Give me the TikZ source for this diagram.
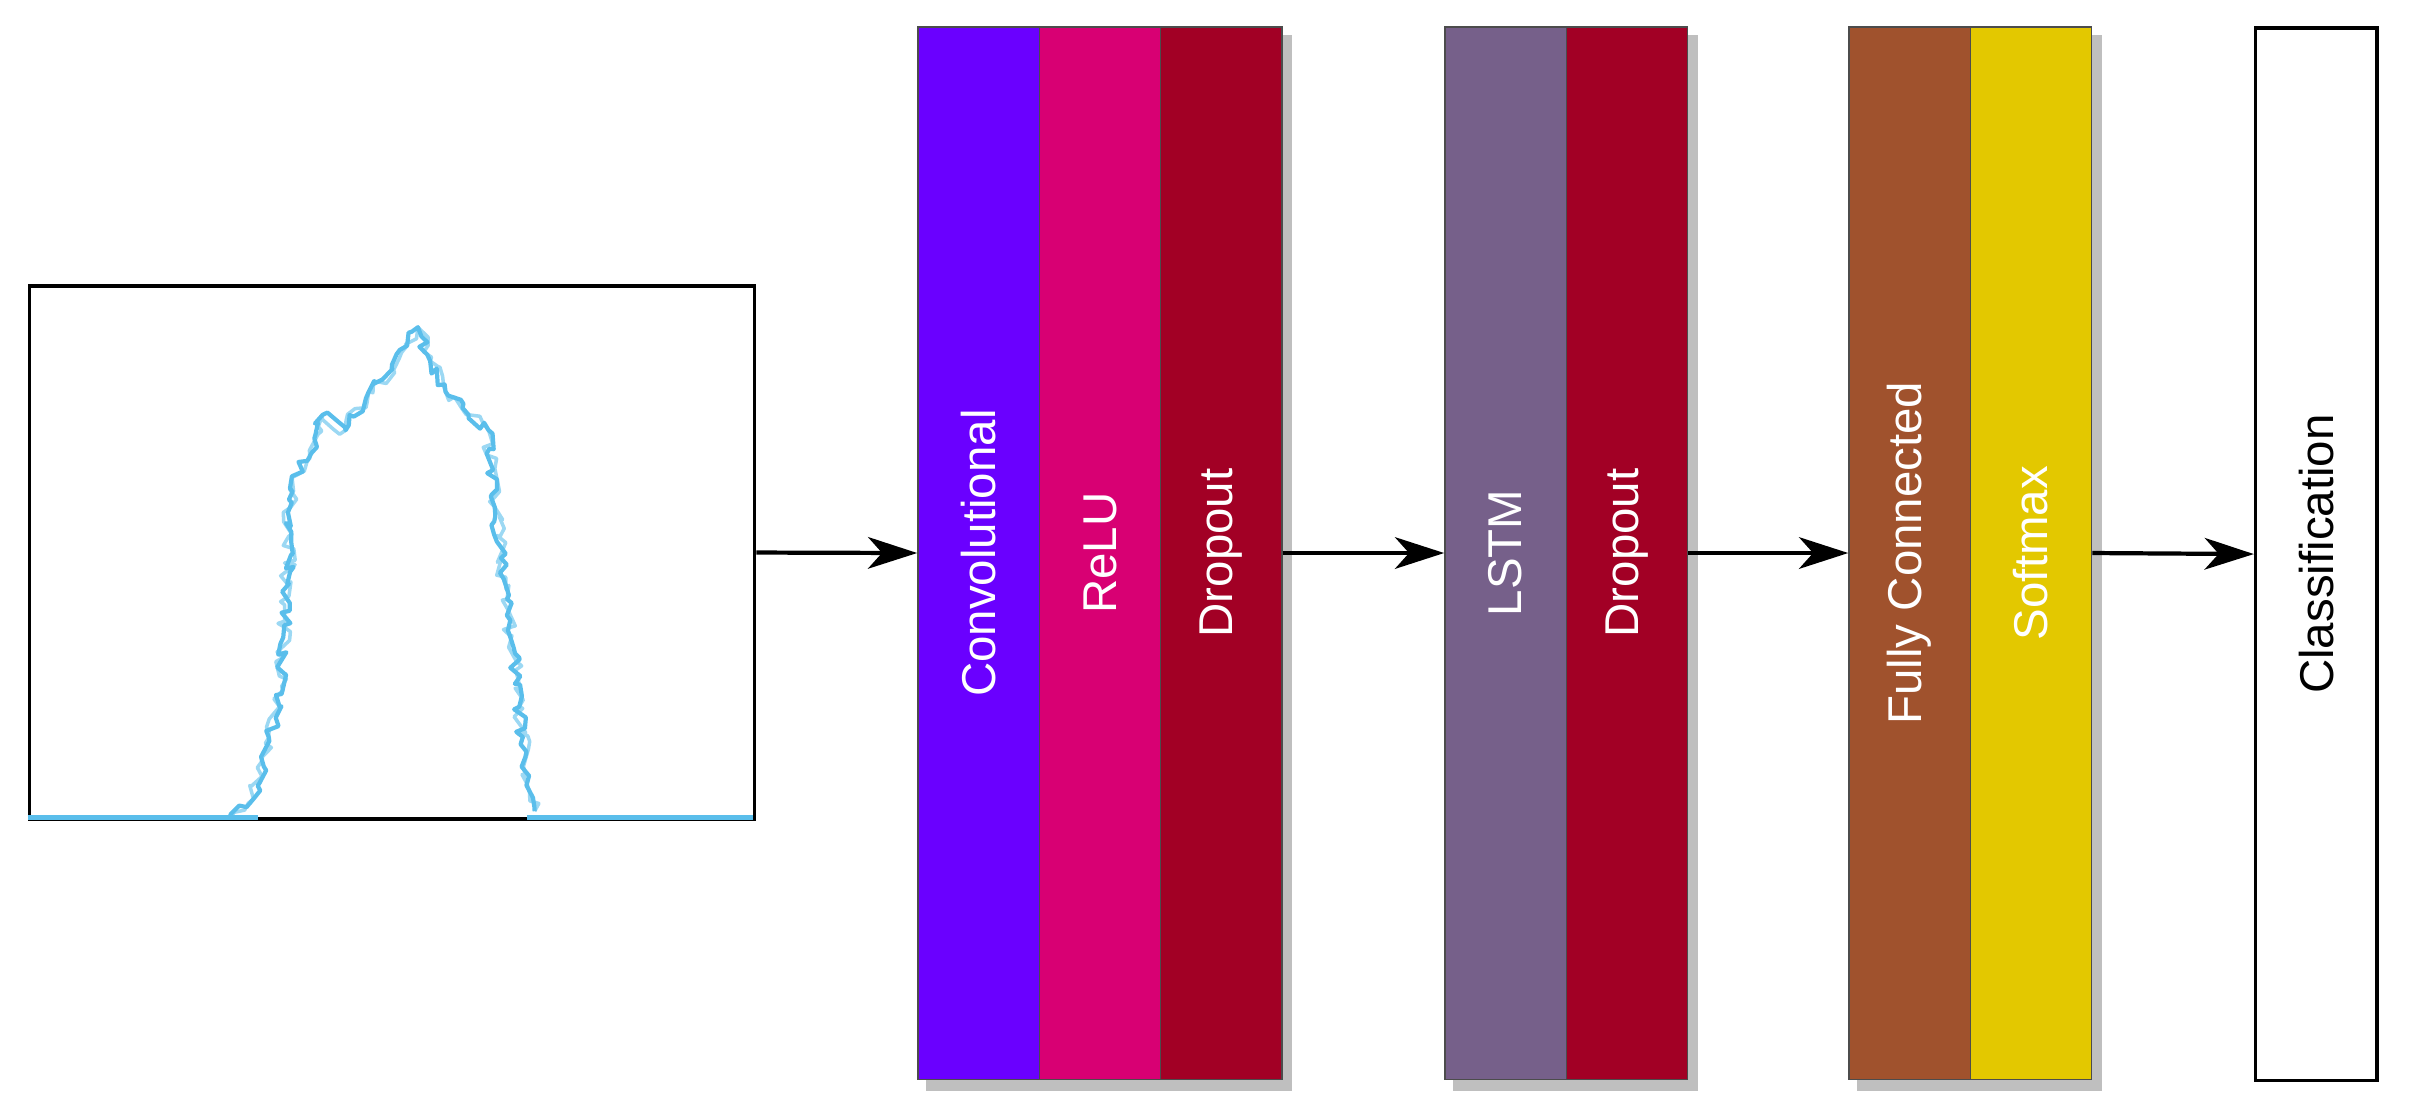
\documentclass[tikz,border=0pt]{standalone}
\usepackage{fontspec}
\setmainfont{Liberation Sans}
\usetikzlibrary{arrows.meta,decorations.pathmorphing}
\definecolor{sig}{RGB}{90,190,235}
\begin{document}
\begin{tikzpicture}[x=0.01536cm,y=-0.01536cm,
 layer/.style={draw=black!70,minimum width=79*0.01536cm,minimum height=685*0.01536cm,inner sep=0,anchor=north west},
 lbl/.style={rotate=90,font=\fontsize{13.5}{16}\selectfont},
 arr/.style={-{Stealth[length=14pt,width=9pt,inset=4pt]},line width=1.2pt}]
\useasboundingbox (0,0) rectangle (1568,721);
% shadows
\fill[black!25] (603,23) rectangle (841,710);
\fill[black!25] (946,23) rectangle (1105,710);
\fill[black!25] (1209,23) rectangle (1368,710);
% plot
\node[draw=black,line width=1pt,minimum width=472*0.01536cm,minimum height=347*0.01536cm,inner sep=0,anchor=north west] (plot) at (18,185) {};
\pgfmathsetseed{7}
\draw[sig!60,line width=1pt,line join=round,decorate,decoration={random steps,segment length=2pt,amplitude=2pt}]
 (150,532) -- (165,520) -- (175,480) -- (182,460) -- (187,380) -- (190,310) -- (200,300) -- (210,270) -- (225,280) -- (240,255) -- (255,240) -- (265,225) -- (272,213) -- (280,235) -- (290,255) -- (305,270) -- (318,280) -- (322,330) -- (330,390) -- (338,460) -- (343,510) -- (348,528);
\pgfmathsetseed{3}
\draw[sig,line width=1.2pt,line join=round,decorate,decoration={random steps,segment length=2pt,amplitude=1.6pt}]
 (150,532) -- (165,520) -- (175,480) -- (182,460) -- (187,380) -- (190,310) -- (200,300) -- (210,270) -- (225,280) -- (240,255) -- (255,240) -- (265,225) -- (272,213) -- (280,235) -- (290,255) -- (305,270) -- (318,280) -- (322,330) -- (330,390) -- (338,460) -- (343,510) -- (348,528);
\draw[sig,line width=1.5pt] (18,532) -- (168,532) (343,532) -- (490,532);
% layers
\node[layer,fill={rgb,255:red,106;green,0;blue,255}] (conv) at (597,17) {};
\node[layer,fill={rgb,255:red,216;green,0;blue,115}] (relu) at (676,17) {};
\node[layer,fill={rgb,255:red,162;green,0;blue,37}] (drop1) at (755,17) {};
\node[layer,fill={rgb,255:red,118;green,96;blue,138}] (lstm) at (940,17) {};
\node[layer,fill={rgb,255:red,162;green,0;blue,37}] (drop2) at (1019,17) {};
\node[layer,fill={rgb,255:red,160;green,82;blue,45}] (fc) at (1203,17) {};
\node[layer,fill={rgb,255:red,227;green,200;blue,0}] (soft) at (1282,17) {};
\node[layer,fill=white,draw=black,line width=1pt] (cls) at (1467,17) {};
\node[lbl,text=white] at (conv.center) {Convolutional};
\node[lbl,text=white] at (relu.center) {ReLU};
\node[lbl,text=white] at (drop1.center) {Dropout};
\node[lbl,text=white] at (lstm.center) {LSTM};
\node[lbl,text=white] at (drop2.center) {Dropout};
\node[lbl,text=white] at (fc.center) {Fully Connected};
\node[lbl,text=white] at (soft.center) {Softmax};
\node[lbl,text=black] at (cls.center) {Classification};
% arrows
\draw[arr] (plot.east) -- (conv.west);
\draw[arr] (drop1.east) -- (lstm.west);
\draw[arr] (drop2.east) -- (fc.west);
\draw[arr] (soft.east) -- (cls.west);
\end{tikzpicture}
\end{document}
